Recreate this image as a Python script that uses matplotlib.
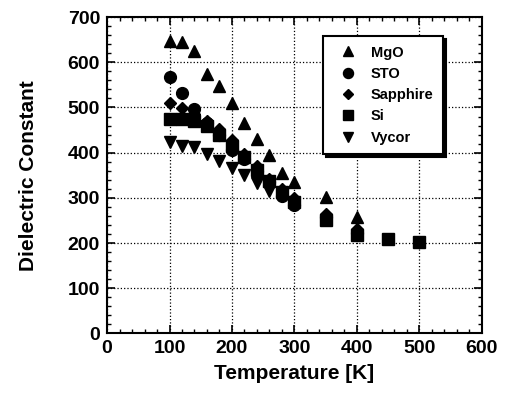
import matplotlib
matplotlib.use("Agg")
import matplotlib.pyplot as plt
from matplotlib.ticker import MultipleLocator

plt.rcParams['font.family'] = ['Liberation Sans', 'DejaVu Sans']
plt.rcParams['font.weight'] = 'bold'

T_mgo = [100, 120, 140, 160, 180, 200, 220, 240, 260, 280, 300, 350, 400]
mgo = [648, 645, 626, 573, 548, 510, 465, 430, 394, 356, 336, 302, 257]

T_sto = [100, 120, 140, 160, 180, 200, 220, 240, 260, 280, 300, 350, 400]
sto = [567, 533, 497, 465, 438, 405, 385, 360, 335, 305, 285, 258, 222]

T_sap = [100, 120, 140, 160, 180, 200, 220, 240, 260, 280, 300, 350, 400]
sapphire = [510, 499, 485, 470, 452, 428, 398, 370, 342, 320, 300, 265, 232]

T_si = [100, 120, 140, 160, 180, 200, 220, 240, 260, 280, 300, 350, 400, 450, 500]
si = [474, 474, 469, 459, 440, 415, 390, 362, 338, 312, 290, 252, 218, 209, 202]

T_vyc = [100, 120, 140, 160, 180, 200, 220, 240, 260]
vycor = [424, 415, 412, 397, 381, 365, 351, 333, 315]

fig = plt.figure(figsize=(5.05, 3.97), dpi=100)
ax = fig.add_axes([0.212, 0.160, 0.742, 0.797])

ax.plot(T_mgo, mgo, ls='none', marker='^', ms=8.5, color='black', label='MgO')
ax.plot(T_sto, sto, ls='none', marker='o', ms=8.5, color='black', label='STO')
ax.plot(T_sap, sapphire, ls='none', marker='D', ms=6.5, color='black', label='Sapphire')
ax.plot(T_si, si, ls='none', marker='s', ms=8.5, color='black', label='Si')
ax.plot(T_vyc, vycor, ls='none', marker='v', ms=8.5, color='black', label='Vycor')

ax.set_xlim(0, 600)
ax.set_ylim(0, 700)
ax.xaxis.set_major_locator(MultipleLocator(100))
ax.xaxis.set_minor_locator(MultipleLocator(20))
ax.yaxis.set_major_locator(MultipleLocator(100))
ax.yaxis.set_minor_locator(MultipleLocator(20))
ax.grid(True, which='major', ls=':', color='black', lw=0.9)

ax.tick_params(which='both', direction='in', top=True, right=True, color='black')
ax.tick_params(which='major', length=6, width=1.2, labelsize=14, pad=5)
ax.tick_params(which='minor', length=3, width=1.0)
for lab in ax.get_xticklabels() + ax.get_yticklabels():
    lab.set_fontweight('bold')
for s in ax.spines.values():
    s.set_linewidth(1.5)

ax.set_xlabel('Temperature [K]', fontsize=15, fontweight='bold', labelpad=5)
ax.set_ylabel('Dielectric Constant', fontsize=15, fontweight='bold')
ax.yaxis.set_label_coords(-0.184, 0.5)

leg = ax.legend(loc='upper left', bbox_to_anchor=(0.576, 0.94), borderaxespad=0,
                fancybox=False, shadow={'color': 'black', 'alpha': 1.0},
                edgecolor='black', framealpha=1, prop={'weight': 'bold', 'size': 10.5},
                handletextpad=0.45, labelspacing=0.5, borderpad=0.65, handlelength=2.2,
                markerscale=0.85)
leg.get_frame().set_linewidth(1.5)

fig.savefig('out.png', dpi=100)
